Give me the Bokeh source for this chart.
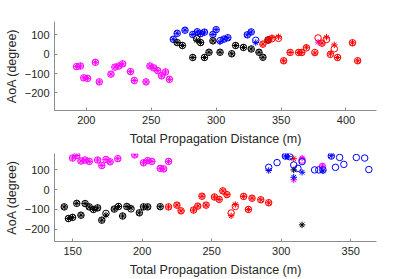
from bokeh.plotting import figure
from bokeh.layouts import column
from bokeh.models import Range1d, FixedTicker
from bokeh.embed import file_html
from bokeh.resources import INLINE

# ---------------- top subplot data ----------------
top_mag_d = [192.5, 195.5, 198, 201, 207, 210, 219, 222, 225, 228, 234, 237, 246, 249, 252, 255, 258, 261, 264]
top_mag_a = [-64, -61, -122, -125, -42, -143, -103, -67, -61, -50, -90, -136, -143, -61, -71, -85, -112, -92, -130]
top_mag_star_d = [192.5, 195.5, 198, 201, 207, 210, 219, 222, 225, 228, 234, 237, 246, 249, 252, 255, 258, 261, 264, 378.5]
top_mag_star_a = [-64, -61, -122, -125, -42, -143, -103, -67, -61, -50, -90, -136, -143, -61, -71, -85, -112, -92, -130, 62]

top_blue_d = [267, 270, 276, 282, 285.5, 288, 291, 297.5, 300, 303, 306, 309, 324, 327, 330.5]
top_blue_a = [77, 108, 124, 102, 116, 106, 114, 102, 127, 70, 78, 85, 100, 115, 72]
top_blue_star_d = [267, 270, 276, 282, 285.5, 288, 291, 297.5, 300, 303, 306, 309, 324, 327, 330.5]
top_blue_star_a = [77, 108, 124, 102, 116, 106, 114, 102, 127, 64, 78, 85, 100, 115, 60]

top_black_d = [270, 274, 282, 285, 288, 291, 294.5, 297.5, 303, 312, 315, 321, 327, 333, 336, 340]
top_black_a = [60, 45, -17, 80, 60, -17, 10, 69, 10, 2, 45, 35, 27, 10, -16, 74]
top_black_star_d = [270, 274, 282, 285, 288, 291, 294.5, 297.5, 303, 312, 315, 321, 327, 333, 336, 340]
top_black_star_a = [60, 45, -17, 72, 60, -17, 10, 69, 10, 2, 45, 35, 27, 10, -16, 74]

top_red_d = [336, 340, 343, 348, 352, 357, 363.5, 366, 369.5, 376, 378.5, 381.5, 385, 388, 391, 393.5, 405, 409]
top_red_a = [52, 72, 80, 82, -34, 9, 9, 9, 33, 9, 84, 57, 76, -1, 28, -17, 59, -34]
top_red_star_d = [336, 340, 343, 348, 352, 357, 363.5, 366, 369.5, 376, 381.5, 385, 388, 391, 393.5, 405, 409]
top_red_star_a = [52, 72, 86, 90, -34, 9, 9, 9, 36, 6, 57, 88, 2, 48, -17, 59, -34]

# ---------------- bottom subplot data ----------------
bot_mag_d = [150, 153, 156, 159, 162, 168, 171, 174, 177, 182.5, 194.7, 201, 204, 207, 213, 215.5, 219, 315, 329.6]
bot_mag_a = [160, 173, 145, 150, 143, 150, 122, 153, 141, 157, 176, 136, 147, 143, 108, 105, 143, 150, 117]
bot_mag_star_d = [150, 153, 156, 159, 162, 168, 171, 174, 177, 182.5, 194.7, 201, 204, 207, 213, 215.5, 219, 309, 315, 329.6]
bot_mag_star_a = [160, 173, 145, 150, 143, 150, 122, 153, 141, 157, 176, 136, 147, 143, 108, 105, 143, 50, 160, 120]

bot_black_d = [144, 147, 150, 153, 156, 159, 162, 165, 168, 171, 174, 180, 183, 186, 189, 192, 198, 201, 204, 213]
bot_black_a = [-87, -146, -140, -69, -129, -70, -87, -100, -92, -154, -120, -98, -85, -133, -85, -97, -117, -87, -87, -86]
bot_black_star_d = [144, 147, 150, 153, 156, 159, 162, 165, 168, 171, 174, 180, 183, 186, 189, 192, 198, 201, 204, 213, 309, 315]
bot_black_star_a = [-87, -146, -140, -69, -129, -70, -87, -100, -92, -154, -128, -98, -85, -133, -85, -92, -117, -87, -87, -86, 100, -178]

bot_red_d = [219, 225, 228, 237, 240, 243, 246, 252, 255.4, 258, 261, 264, 267, 273, 276.4, 279, 285.3, 291]
bot_red_a = [-87, -78, -107, -103, -83, -33, -78, -37, -49, -6, -25, -118, -85, -34, -100, -43, -51, -66]
bot_red_star_d = [219, 225, 228, 237, 240, 243, 246, 252, 255.4, 258, 261, 264, 267, 273, 276.4, 279, 285.3, 291, 309]
bot_red_star_a = [-87, -78, -107, -103, -83, -33, -78, -37, -49, -6, -25, -132, -75, -34, -100, -43, -51, -66, 157]

bot_blue_d = [291, 297, 303, 306, 309, 312, 315, 324, 327, 330, 336, 339, 342, 345, 354, 360, 363]
bot_blue_a = [113, 137, 170, 167, 125, 108, 142, 100, 100, 100, 170, 113, 163, 128, 163, 160, 102]
bot_blue_star_d = [291, 303, 305, 309, 315, 330, 336]
bot_blue_star_a = [97, 170, 167, 63, 88, 95, 172]

top_xticks = [200, 250, 300, 350, 400]
bot_xticks = [150, 200, 250, 300, 350]
yticks = [-200, -100, 0, 100]

FONT = "Liberation Sans"
TXT = "#262626"


def make_fig(xr, yr, xticks, h, top, bottom):
    p = figure(width=415, height=h,
               x_range=Range1d(*xr), y_range=Range1d(*yr),
               output_backend="svg", toolbar_location=None,
               min_border_left=54, min_border_right=39,
               min_border_top=top, min_border_bottom=bottom,
               x_axis_label="Total Propagation Distance (m)",
               y_axis_label="AoA (degree)")
    p.outline_line_color = None
    p.grid.visible = False
    p.background_fill_color = "white"
    p.border_fill_color = "white"
    p.xaxis.ticker = FixedTicker(ticks=xticks)
    p.yaxis.ticker = FixedTicker(ticks=yticks)
    for ax in (p.xaxis, p.yaxis):
        ax.axis_line_color = "#8c8c8c"
        ax.major_tick_line_color = "#8c8c8c"
        ax.major_tick_in = 3
        ax.major_tick_out = 0
        ax.minor_tick_line_color = None
        ax.major_label_text_font = FONT
        ax.major_label_text_font_size = "11px"
        ax.major_label_text_color = TXT
        ax.axis_label_text_font = FONT
        ax.axis_label_text_font_size = "12.5px"
        ax.axis_label_text_font_style = "normal"
        ax.axis_label_text_color = TXT
    p.xaxis.major_label_standoff = 5
    p.xaxis.axis_label_standoff = 5
    p.yaxis.major_label_standoff = 5
    p.yaxis.axis_label_standoff = 3
    return p


def pts(p, d, a, color, marker):
    if marker == "circle":
        p.scatter(d, a, marker="circle", size=6.5, fill_color=None,
                  line_color=color, line_width=1)
    else:
        p.scatter(d, a, marker="asterisk", size=6.5, line_color=color, line_width=1)


p1 = make_fig((175.5, 423.5), (-291, 169), top_xticks, 150, 21, 40)
pts(p1, top_mag_d, top_mag_a, "#ff00ff", "circle")
pts(p1, top_mag_star_d, top_mag_star_a, "#ff00ff", "star")
pts(p1, top_blue_d, top_blue_a, "#0000ff", "circle")
pts(p1, top_blue_star_d, top_blue_star_a, "#0000ff", "star")
pts(p1, top_black_d, top_black_a, "#000000", "circle")
pts(p1, top_black_star_d, top_black_star_a, "#000000", "star")
pts(p1, top_red_d, top_red_a, "#ff0000", "circle")
pts(p1, top_red_star_d, top_red_star_a, "#ff0000", "star")

p2 = make_fig((137, 368.5), (-262, 183), bot_xticks, 129, 3, 37)
pts(p2, bot_mag_d, bot_mag_a, "#ff00ff", "circle")
pts(p2, bot_mag_star_d, bot_mag_star_a, "#ff00ff", "star")
pts(p2, bot_black_d, bot_black_a, "#000000", "circle")
pts(p2, bot_black_star_d, bot_black_star_a, "#000000", "star")
pts(p2, bot_red_d, bot_red_a, "#ff0000", "circle")
pts(p2, bot_red_star_d, bot_red_star_a, "#ff0000", "star")
pts(p2, bot_blue_d, bot_blue_a, "#0000ff", "circle")
pts(p2, bot_blue_star_d, bot_blue_star_a, "#0000ff", "star")

layout = column(p1, p2, spacing=0)
open("out.html", "w").write(file_html(layout, INLINE))
